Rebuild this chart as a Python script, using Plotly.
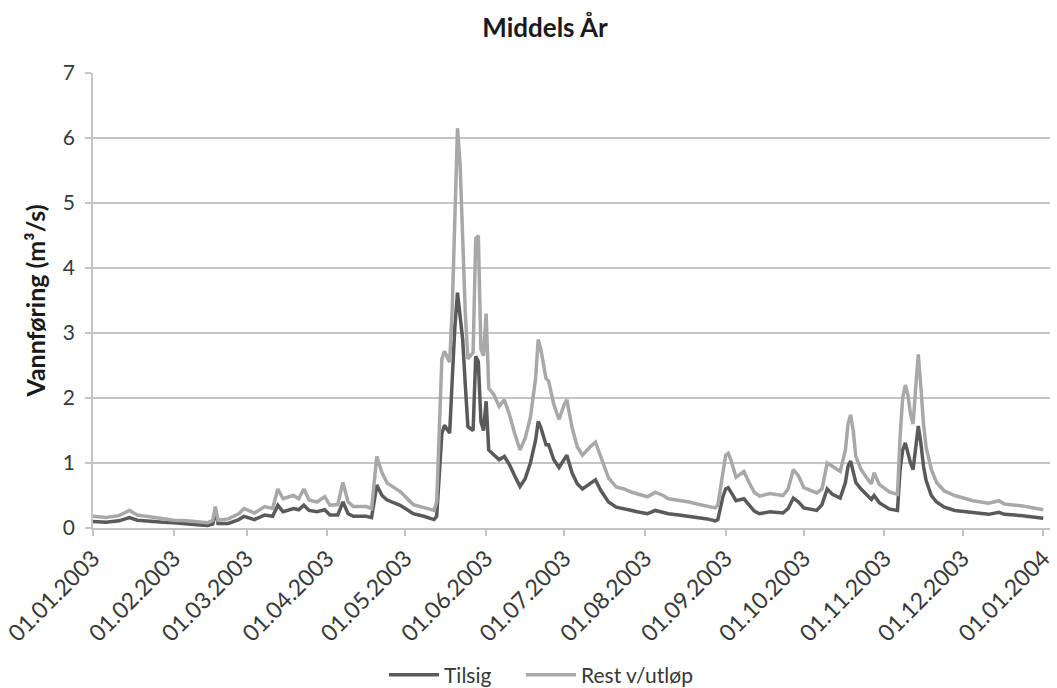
import plotly.graph_objects as go

# Daily discharge readings (m³/s) for an average year
dates = [
    "2003-01-01", "2003-01-06", "2003-01-11", "2003-01-15", "2003-01-18", "2003-01-23", "2003-01-28",
    "2003-02-01", "2003-02-06", "2003-02-10", "2003-02-14", "2003-02-16", "2003-02-17", "2003-02-18",
    "2003-02-22", "2003-02-26", "2003-02-28", "2003-03-04", "2003-03-08", "2003-03-11", "2003-03-13",
    "2003-03-15", "2003-03-19", "2003-03-21", "2003-03-23", "2003-03-25", "2003-03-28", "2003-03-31",
    "2003-04-02", "2003-04-05", "2003-04-07", "2003-04-09", "2003-04-11", "2003-04-16", "2003-04-18",
    "2003-04-20", "2003-04-22", "2003-04-24", "2003-04-29", "2003-05-04", "2003-05-08", "2003-05-12",
    "2003-05-13", "2003-05-14", "2003-05-15", "2003-05-16", "2003-05-18", "2003-05-19", "2003-05-20",
    "2003-05-21", "2003-05-22", "2003-05-23", "2003-05-24", "2003-05-25", "2003-05-27", "2003-05-28",
    "2003-05-29", "2003-05-30", "2003-05-31", "2003-06-01", "2003-06-02", "2003-06-04", "2003-06-06",
    "2003-06-08", "2003-06-10", "2003-06-12", "2003-06-14", "2003-06-16", "2003-06-18", "2003-06-20",
    "2003-06-21", "2003-06-22", "2003-06-24", "2003-06-25", "2003-06-27", "2003-06-29", "2003-07-01",
    "2003-07-02", "2003-07-04", "2003-07-06", "2003-07-08", "2003-07-11", "2003-07-13", "2003-07-15",
    "2003-07-18", "2003-07-21", "2003-07-24", "2003-07-27", "2003-07-29", "2003-08-02", "2003-08-05",
    "2003-08-08", "2003-08-10", "2003-08-14", "2003-08-18", "2003-08-21", "2003-08-25", "2003-08-28",
    "2003-08-29", "2003-08-31", "2003-09-01", "2003-09-02", "2003-09-03", "2003-09-05", "2003-09-08",
    "2003-09-10", "2003-09-12", "2003-09-14", "2003-09-18", "2003-09-23", "2003-09-25", "2003-09-27",
    "2003-09-29", "2003-10-01", "2003-10-06", "2003-10-08", "2003-10-10", "2003-10-12", "2003-10-15",
    "2003-10-17", "2003-10-18", "2003-10-19", "2003-10-20", "2003-10-21", "2003-10-23", "2003-10-25",
    "2003-10-27", "2003-10-28", "2003-10-30", "2003-11-03", "2003-11-06", "2003-11-07", "2003-11-08",
    "2003-11-09", "2003-11-10", "2003-11-11", "2003-11-12", "2003-11-13", "2003-11-14", "2003-11-15",
    "2003-11-16", "2003-11-17", "2003-11-19", "2003-11-21", "2003-11-24", "2003-11-28", "2003-12-05",
    "2003-12-11", "2003-12-15", "2003-12-17", "2003-12-24", "2004-01-01",
]

tilsig = [
    0.10, 0.09, 0.11, 0.16, 0.12, 0.10, 0.09,
    0.08, 0.07, 0.05, 0.04, 0.06, 0.27, 0.07,
    0.07, 0.13, 0.18, 0.13, 0.20, 0.18, 0.35,
    0.25, 0.30, 0.28, 0.35, 0.27, 0.25, 0.28,
    0.20, 0.20, 0.40, 0.22, 0.18, 0.18, 0.16,
    0.66, 0.50, 0.43, 0.35, 0.22, 0.18, 0.13,
    0.18, 0.80, 1.45, 1.58, 1.46, 2.30, 3.10,
    3.62, 3.30, 2.90, 2.20, 1.56, 1.50, 2.64,
    2.56, 1.64, 1.50, 1.95, 1.20, 1.13, 1.05,
    1.10, 0.97, 0.80, 0.64, 0.76, 1.00, 1.35,
    1.64, 1.55, 1.28, 1.28, 1.05, 0.93, 1.05,
    1.12, 0.85, 0.68, 0.60, 0.68, 0.74, 0.58,
    0.40, 0.32, 0.30, 0.27, 0.25, 0.22, 0.27,
    0.24, 0.22, 0.20, 0.18, 0.17, 0.14, 0.11,
    0.13, 0.49, 0.60, 0.62, 0.56, 0.42, 0.45,
    0.35, 0.26, 0.22, 0.25, 0.23, 0.30, 0.46,
    0.40, 0.31, 0.27, 0.36, 0.60, 0.52, 0.46,
    0.70, 0.95, 1.03, 0.88, 0.70, 0.60, 0.52,
    0.44, 0.50, 0.39, 0.29, 0.27, 0.90, 1.20,
    1.31, 1.15, 1.00, 0.90, 1.24, 1.57, 1.30,
    0.95, 0.73, 0.50, 0.40, 0.32, 0.27, 0.24,
    0.21, 0.24, 0.21, 0.19, 0.15,
]

rest_utlop = [
    0.18, 0.16, 0.19, 0.27, 0.20, 0.17, 0.15,
    0.12, 0.11, 0.09, 0.08, 0.12, 0.33, 0.12,
    0.14, 0.22, 0.30, 0.23, 0.33, 0.30, 0.60,
    0.45, 0.50, 0.45, 0.60, 0.43, 0.40, 0.48,
    0.35, 0.36, 0.70, 0.40, 0.33, 0.33, 0.30,
    1.10, 0.85, 0.69, 0.56, 0.36, 0.32, 0.27,
    0.40, 1.50, 2.60, 2.72, 2.55, 3.40, 5.00,
    6.15, 5.60, 4.30, 3.30, 2.60, 2.70, 4.45,
    4.50, 2.75, 2.65, 3.30, 2.15, 2.05, 1.87,
    1.97, 1.74, 1.45, 1.20, 1.38, 1.70, 2.30,
    2.90, 2.75, 2.30, 2.26, 1.90, 1.67, 1.90,
    1.97, 1.55, 1.25, 1.12, 1.25, 1.32, 1.10,
    0.77, 0.63, 0.60, 0.55, 0.53, 0.48, 0.55,
    0.50, 0.45, 0.43, 0.40, 0.37, 0.33, 0.31,
    0.35, 0.92, 1.12, 1.15, 1.05, 0.78, 0.87,
    0.70, 0.55, 0.49, 0.53, 0.50, 0.60, 0.90,
    0.80, 0.62, 0.54, 0.60, 1.00, 0.95, 0.87,
    1.20, 1.60, 1.74, 1.50, 1.10, 0.90, 0.78,
    0.68, 0.85, 0.67, 0.55, 0.52, 1.40, 2.00,
    2.20, 2.05, 1.75, 1.60, 2.16, 2.67, 2.16,
    1.60, 1.24, 0.90, 0.70, 0.57, 0.50, 0.42,
    0.38, 0.42, 0.37, 0.34, 0.28,
]

month_ticks = [
    "2003-01-01", "2003-02-01", "2003-03-01", "2003-04-01", "2003-05-01", "2003-06-01", "2003-07-01",
    "2003-08-01", "2003-09-01", "2003-10-01", "2003-11-01", "2003-12-01", "2004-01-01",
]
month_labels = [
    "01.01.2003", "01.02.2003", "01.03.2003", "01.04.2003", "01.05.2003", "01.06.2003", "01.07.2003",
    "01.08.2003", "01.09.2003", "01.10.2003", "01.11.2003", "01.12.2003", "01.01.2004",
]

FONT = "Lato"
TEXT = "#383838"
GRID = "#c4c4c4"

fig = go.Figure()
fig.add_trace(go.Scatter(
    x=dates, y=tilsig, name="Tilsig", mode="lines",
    line=dict(color="#5a5a5a", width=3.5), legend="legend",
))
fig.add_trace(go.Scatter(
    x=dates, y=rest_utlop, name="Rest v/utløp", mode="lines",
    line=dict(color="#a8a8a8", width=3.5), legend="legend2",
))

legend_style = dict(
    orientation="h", xref="container", yref="container",
    xanchor="left", y=13 / 688, yanchor="middle",
    font=dict(family=FONT, size=21, color=TEXT),
    itemwidth=50, bgcolor="rgba(0,0,0,0)",
)

fig.update_layout(
    width=1057, height=688,
    margin=dict(l=91, r=2, t=73, b=160),
    paper_bgcolor="white", plot_bgcolor="white",
    font=dict(family=FONT, color=TEXT, size=20),
    title=dict(
        text="<b>Middels År</b>", x=545 / 1057, xref="container", xanchor="center",
        y=1 - 28 / 688, yref="container", yanchor="middle",
        font=dict(family=FONT, size=26, color="#1a1a1a"),
    ),
    showlegend=True,
    legend=dict(legend_style, x=384 / 1057),
    legend2=dict(legend_style, x=521 / 1057),
)

fig.update_xaxes(
    type="date",
    range=["2003-01-01", "2004-01-03 14:00"],
    tickvals=month_ticks, ticktext=month_labels,
    tickangle=-45, ticklabeloverflow="allow",
    showgrid=False, zeroline=False,
    showline=True, linecolor=GRID, linewidth=1.5,
    ticks="outside", ticklen=6, tickcolor=GRID, tickwidth=1.5,
    tickfont=dict(family=FONT, size=23, color=TEXT),
)
fig.update_yaxes(
    range=[0, 7], tick0=0, dtick=1,
    showgrid=True, gridcolor=GRID, gridwidth=1.5,
    zeroline=False,
    showline=True, linecolor=GRID, linewidth=1.5,
    ticks="outside", ticklen=6, tickcolor=GRID, tickwidth=1.5,
    ticklabelstandoff=6,
    tickfont=dict(family=FONT, size=21, color=TEXT),
    title=dict(text="<b>Vannføring (m³/s)</b>", font=dict(family=FONT, size=25, color="#1a1a1a"), standoff=10),
)

fig.write_html("out.html")
